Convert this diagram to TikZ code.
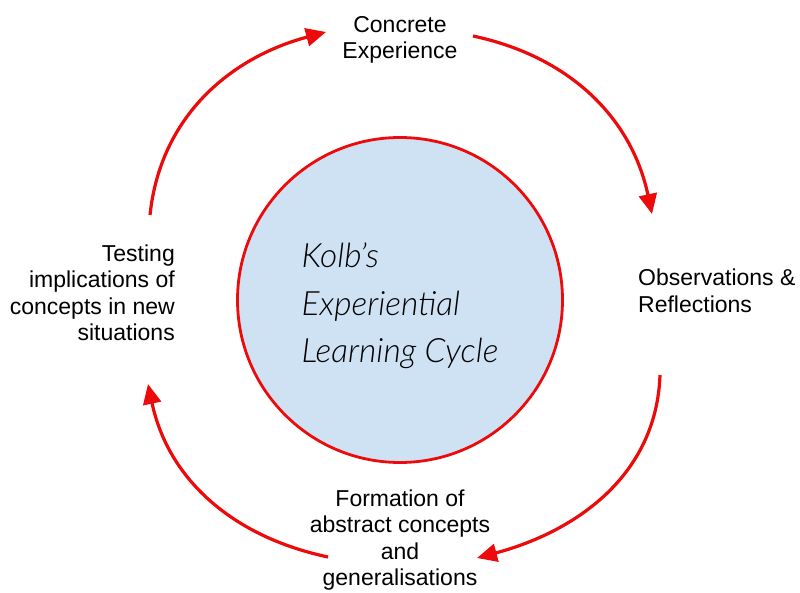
\documentclass[tikz,border=0pt]{standalone}
\usepackage{fontspec}
\setmainfont{Liberation Sans}
\newfontfamily\handfont{Lato Light}
\usetikzlibrary{arrows.meta}
\definecolor{cyclered}{RGB}{236,10,10}
\definecolor{cycleblue}{RGB}{207,226,243}

\begin{document}
\begin{tikzpicture}[x = 1pt, y = 1pt,
    stage/.style = {font = \fontsize{23}{26.5}\selectfont, inner sep = 0pt},
    cycle/.style = {draw = cyclered, line width = 3.2pt, -{Triangle[length = 20pt, width = 18pt]}}]
    \useasboundingbox (0,0) rectangle (800,592);
    \node[circle, draw = cyclered, line width = 2.8pt, fill = cycleblue, minimum size = 325pt] (kolb) at (400,292) {};
    \node[align = left, inner sep = 0pt, font = \handfont\itshape\fontsize{33.5}{47.5}\selectfont] (title) at (400,286)
        {Kolb’s\\Experiential\\Learning Cycle};
    \node[stage, align = center] (concrete) at (400,552) {Concrete\\Experience};
    \node[stage, align = left, anchor = west] (observe) at (638,301) {Observations \&\\Reflections};
    \node[stage, align = center] (formation) at (400,52) {Formation of\\abstract concepts\\and\\generalisations};
    \node[stage, align = right, anchor = east] (testing) at (175,299) {Testing\\implications of\\concepts in new\\situations};
    % arrow ends
    \coordinate (testingtop) at (150,377);
    \coordinate (concreteleft) at (326,560);
    \coordinate (concreteright) at (473,556);
    \coordinate (observetop) at (652,378);
    \coordinate (observebottom) at (660,217);
    \coordinate (formationright) at (477,34);
    \coordinate (formationleft) at (328,35);
    \coordinate (testingbottom) at (148,208);
    \draw[cycle] (testingtop) to[out = 84, in = 195] (concreteleft);
    \draw[cycle] (concreteright) to[out = -12, in = 102] (observetop);
    \draw[cycle] (observebottom) to[out = -92, in = 15] (formationright);
    \draw[cycle] (formationleft) to[out = 168, in = -78] (testingbottom);
\end{tikzpicture}
\end{document}
